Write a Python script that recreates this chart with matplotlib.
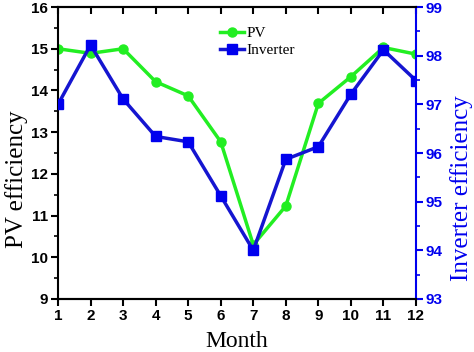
import matplotlib
matplotlib.use("Agg")
import matplotlib.pyplot as plt
from matplotlib.ticker import MultipleLocator
from matplotlib.font_manager import FontProperties

months = [1, 2, 3, 4, 5, 6, 7, 8, 9, 10, 11, 12]
pv_eff = [15.0, 14.89, 15.0, 14.21, 13.87, 12.77, 10.3, 11.23, 13.69, 14.33, 15.03, 14.87]
inv_eff = [97.0, 98.22, 97.11, 96.34, 96.23, 95.12, 94.0, 95.87, 96.13, 97.21, 98.12, 97.49]

green = '#22ee22'
blue = '#1515d0'
axblue = '#0000ee'

fig = plt.figure(figsize=(4.74, 3.52), dpi=100)
ax = fig.add_axes([0.1224, 0.1506, 0.7552, 0.8294])
ax2 = ax.twinx()

l1, = ax.plot(months, pv_eff, '-o', color=green, lw=2.5, ms=6.5, label='PV', zorder=2)
l2, = ax2.plot(months, inv_eff, '-s', color=blue, mfc=axblue, mec=axblue, lw=2.5, ms=6.5,
               label='Inverter', zorder=3)

ax.set_xlim(1, 12)
ax.set_ylim(9, 16)
ax2.set_ylim(93, 99)
ax.set_xticks(months)
ax.yaxis.set_major_locator(MultipleLocator(1))
ax.yaxis.set_minor_locator(MultipleLocator(0.5))
ax2.yaxis.set_major_locator(MultipleLocator(1))
ax2.yaxis.set_minor_locator(MultipleLocator(0.5))

tickfp = FontProperties(family='Liberation Sans', weight='bold', size=11)
for lab in ax.get_xticklabels() + ax.get_yticklabels():
    lab.set_fontproperties(tickfp)
for lab in ax2.get_yticklabels():
    lab.set_fontproperties(tickfp)
    lab.set_color(axblue)

ax.tick_params(axis='x', which='major', direction='out', length=5, width=1.5, pad=2)
ax.tick_params(axis='y', which='major', direction='out', length=5, width=1.5, pad=2)
ax.tick_params(axis='y', which='minor', direction='out', length=3, width=1.2)
ax2.tick_params(axis='y', which='major', direction='out', length=5, width=1.5, colors=axblue, pad=2)
ax2.tick_params(axis='y', which='minor', direction='out', length=3, width=1.2, colors=axblue)

# top ticks inward
secx = ax.secondary_xaxis('top')
secx.set_xticks(months)
secx.tick_params(direction='in', length=5, width=1.5, labeltop=False)
secx.spines['top'].set_visible(False)

for s in ['left', 'bottom', 'top']:
    ax.spines[s].set_linewidth(1.5)
    ax2.spines[s].set_linewidth(1.5)
ax2.spines['right'].set_color(axblue)
ax2.spines['right'].set_linewidth(1.5)
ax.spines['right'].set_visible(False)
ax2.spines['left'].set_visible(False)

serif = 'Liberation Serif'
ax.set_xlabel('Month', family=serif, size=17, labelpad=6)
ax.set_ylabel('PV efficiency', family=serif, size=18)
ax2.set_ylabel('Inverter efficiency', family=serif, size=18, color=axblue)
ax.yaxis.set_label_coords(-0.083, 0.41)
ax2.yaxis.set_label_coords(1.095, 0.38)

leg = ax.legend(handles=[l1, l2], loc='upper left', bbox_to_anchor=(0.435, 0.955),
                frameon=False, prop=dict(family=serif, size=11),
                handlelength=1.6, handletextpad=0.15, labelspacing=0.25, borderaxespad=0)

fig.savefig('out.png', dpi=100)
